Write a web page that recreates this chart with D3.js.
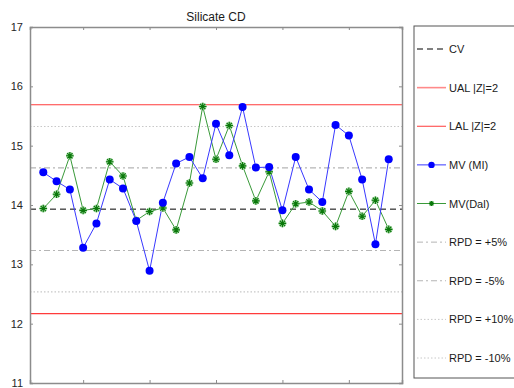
<!DOCTYPE html>
<html>
<head>
<meta charset="utf-8">
<script src="https://cdn.jsdelivr.net/npm/d3@7"></script>
<style>
  html, body { margin: 0; padding: 0; background: #fff; }
  svg { display: block; font-family: "Liberation Sans", Arial, sans-serif; }
</style>
</head>
<body>
<svg id="chart" width="514" height="388"></svg>
<script>
// Sample index along the x axis
const samples = d3.range(2, 29);
// Measured values, MI lab
const mvMI = [14.55, 14.40, 14.26, 13.28, 13.69, 14.43, 14.28, 13.73, 12.89, 14.04,
              14.70, 14.81, 14.45, 15.37, 14.84, 15.65, 14.63, 14.64, 13.91, 14.81,
              14.26, 14.05, 15.35, 15.17, 14.43, 13.34, 14.77];
// Measured values, Dal lab
const mvDal = [13.94, 14.18, 14.83, 13.91, 13.94, 14.73, 14.49, 13.74, 13.89, 13.95,
               13.58, 14.37, 15.66, 14.77, 15.34, 14.66, 14.07, 14.56, 13.69, 14.02,
               14.05, 13.90, 13.64, 14.23, 13.81, 14.08, 13.59];
// Certified value and control limits
const cv = 13.93;
const sigma = 0.88;
const yTicks = [11, 12, 13, 14, 15, 16, 17];
const xTicks = [5, 10, 15, 20, 25];
const legendLabels = ["CV", "UAL |Z|=2", "LAL |Z|=2", "MV (MI)", "MV(Dal)",
                      "RPD = +5%", "RPD = -5%", "RPD = +10%", "RPD = -10%"];

const svg = d3.select("#chart");
const L = 30, R = 402, T = 27, B = 383;
const x = d3.scaleLinear().domain([1, 29]).range([L, R]);
const y = d3.scaleLinear().domain([11, 17]).range([B, T]);

const refLines = [
  { v: cv, stroke: "#000", dash: "6,4", w: 1 },
  { v: cv + 2 * sigma, stroke: "#ff3b3b", dash: null, w: 1.2 },
  { v: cv - 2 * sigma, stroke: "#ff3b3b", dash: null, w: 1.2 },
  { v: cv * 1.05, stroke: "#b5b5b5", dash: "6,3,2,3", w: 1.2 },
  { v: cv * 0.95, stroke: "#b5b5b5", dash: "6,3,2,3", w: 1.2 },
  { v: cv * 1.10, stroke: "#c8c8c8", dash: "1.5,2", w: 1.2 },
  { v: cv * 0.90, stroke: "#c8c8c8", dash: "1.5,2", w: 1.2 }
];

// reference lines
svg.append("g").selectAll("line").data(refLines).join("line")
  .attr("x1", L).attr("x2", R)
  .attr("y1", d => y(d.v)).attr("y2", d => y(d.v))
  .attr("stroke", d => d.stroke).attr("stroke-width", d => d.w)
  .attr("stroke-dasharray", d => d.dash);

// axes box
const axisColor = "#8c8c8c";
const gL = svg.append("g").attr("transform", `translate(${L},0)`)
  .call(d3.axisLeft(y).tickValues(yTicks).tickSize(-3).tickPadding(7).tickFormat(d3.format("d")));
const gR = svg.append("g").attr("transform", `translate(${R},0)`)
  .call(d3.axisRight(y).tickValues(yTicks).tickSize(-3).tickFormat(""));
const gT = svg.append("g").attr("transform", `translate(0,${T})`)
  .call(d3.axisTop(x).tickValues(xTicks).tickSize(-3).tickFormat(""));
const gB = svg.append("g").attr("transform", `translate(0,${B})`)
  .call(d3.axisBottom(x).tickValues(xTicks).tickSize(-3).tickFormat(""));
[gL, gR, gT, gB].forEach(g => {
  g.select(".domain").attr("stroke", axisColor).attr("stroke-width", 1.5);
  g.selectAll(".tick line").attr("stroke", axisColor);
});
gL.selectAll(".tick text").attr("font-size", 11).attr("fill", "#262626")
  .attr("font-family", "Liberation Sans, Arial, sans-serif");

// series lines
const lineGen = (vals) => d3.line().x((d, i) => x(samples[i])).y(d => y(d))(vals);
svg.append("path").attr("d", lineGen(mvDal)).attr("fill", "none")
  .attr("stroke", "#3a9a3a").attr("stroke-width", 1);
svg.append("path").attr("d", lineGen(mvMI)).attr("fill", "none")
  .attr("stroke", "#3838ff").attr("stroke-width", 1);

// asterisk marker
function star(g, cx, cy, r) {
  const p = `M${cx - r},${cy}L${cx + r},${cy}M${cx},${cy - r}L${cx},${cy + r}` +
    `M${cx - r * 0.7},${cy - r * 0.7}L${cx + r * 0.7},${cy + r * 0.7}` +
    `M${cx - r * 0.7},${cy + r * 0.7}L${cx + r * 0.7},${cy - r * 0.7}`;
  g.append("path").attr("d", p).attr("stroke", "#9fd49f").attr("stroke-width", 2.6).attr("fill", "none");
  g.append("path").attr("d", p).attr("stroke", "#0a780a").attr("stroke-width", 1.1).attr("fill", "none");
}
const gStars = svg.append("g");
mvDal.forEach((v, i) => star(gStars, x(samples[i]), y(v), 3.8));

svg.append("g").selectAll("circle").data(mvMI).join("circle")
  .attr("cx", (d, i) => x(samples[i])).attr("cy", d => y(d))
  .attr("r", 4).attr("fill", "#0000ff");

// title
svg.append("text").attr("x", (L + R) / 2).attr("y", 21)
  .attr("text-anchor", "middle").attr("font-size", 12).attr("fill", "#1a1a1a")
  .text("Silicate CD");

// legend
const lg = svg.append("g");
lg.append("rect").attr("x", 414).attr("y", 26).attr("width", 110).attr("height", 352)
  .attr("fill", "#fff").attr("stroke", "#555").attr("stroke-width", 1);
const legendY = d3.scalePoint().domain(legendLabels).range([49, 358]);
const legendStyle = [
  { stroke: "#000", dash: "6,4", w: 1 },
  { stroke: "#ff8a8a", dash: null, w: 1.6 },
  { stroke: "#ff3b3b", dash: null, w: 1 },
  { stroke: "#3838ff", dash: null, w: 1, marker: "circle" },
  { stroke: "#3a9a3a", dash: null, w: 1, marker: "star" },
  { stroke: "#b5b5b5", dash: "6,3,2,3", w: 1 },
  { stroke: "#b5b5b5", dash: "6,3,2,3", w: 1 },
  { stroke: "#c8c8c8", dash: "1.5,2", w: 1 },
  { stroke: "#c8c8c8", dash: "1.5,2", w: 1 }
];
legendLabels.forEach((lab, i) => {
  const yy = legendY(lab), s = legendStyle[i];
  lg.append("line").attr("x1", 417).attr("x2", 446).attr("y1", yy).attr("y2", yy)
    .attr("stroke", s.stroke).attr("stroke-width", s.w).attr("stroke-dasharray", s.dash);
  if (s.marker === "circle") {
    lg.append("circle").attr("cx", 431.5).attr("cy", yy).attr("r", 3.2).attr("fill", "#0000ff");
  } else if (s.marker === "star") {
    star(lg, 431.5, yy, 2.6);
  }
  lg.append("text").attr("x", 449).attr("y", yy + 4).attr("font-size", 11)
    .attr("fill", "#1a1a1a").text(lab);
});
</script>
</body>
</html>
